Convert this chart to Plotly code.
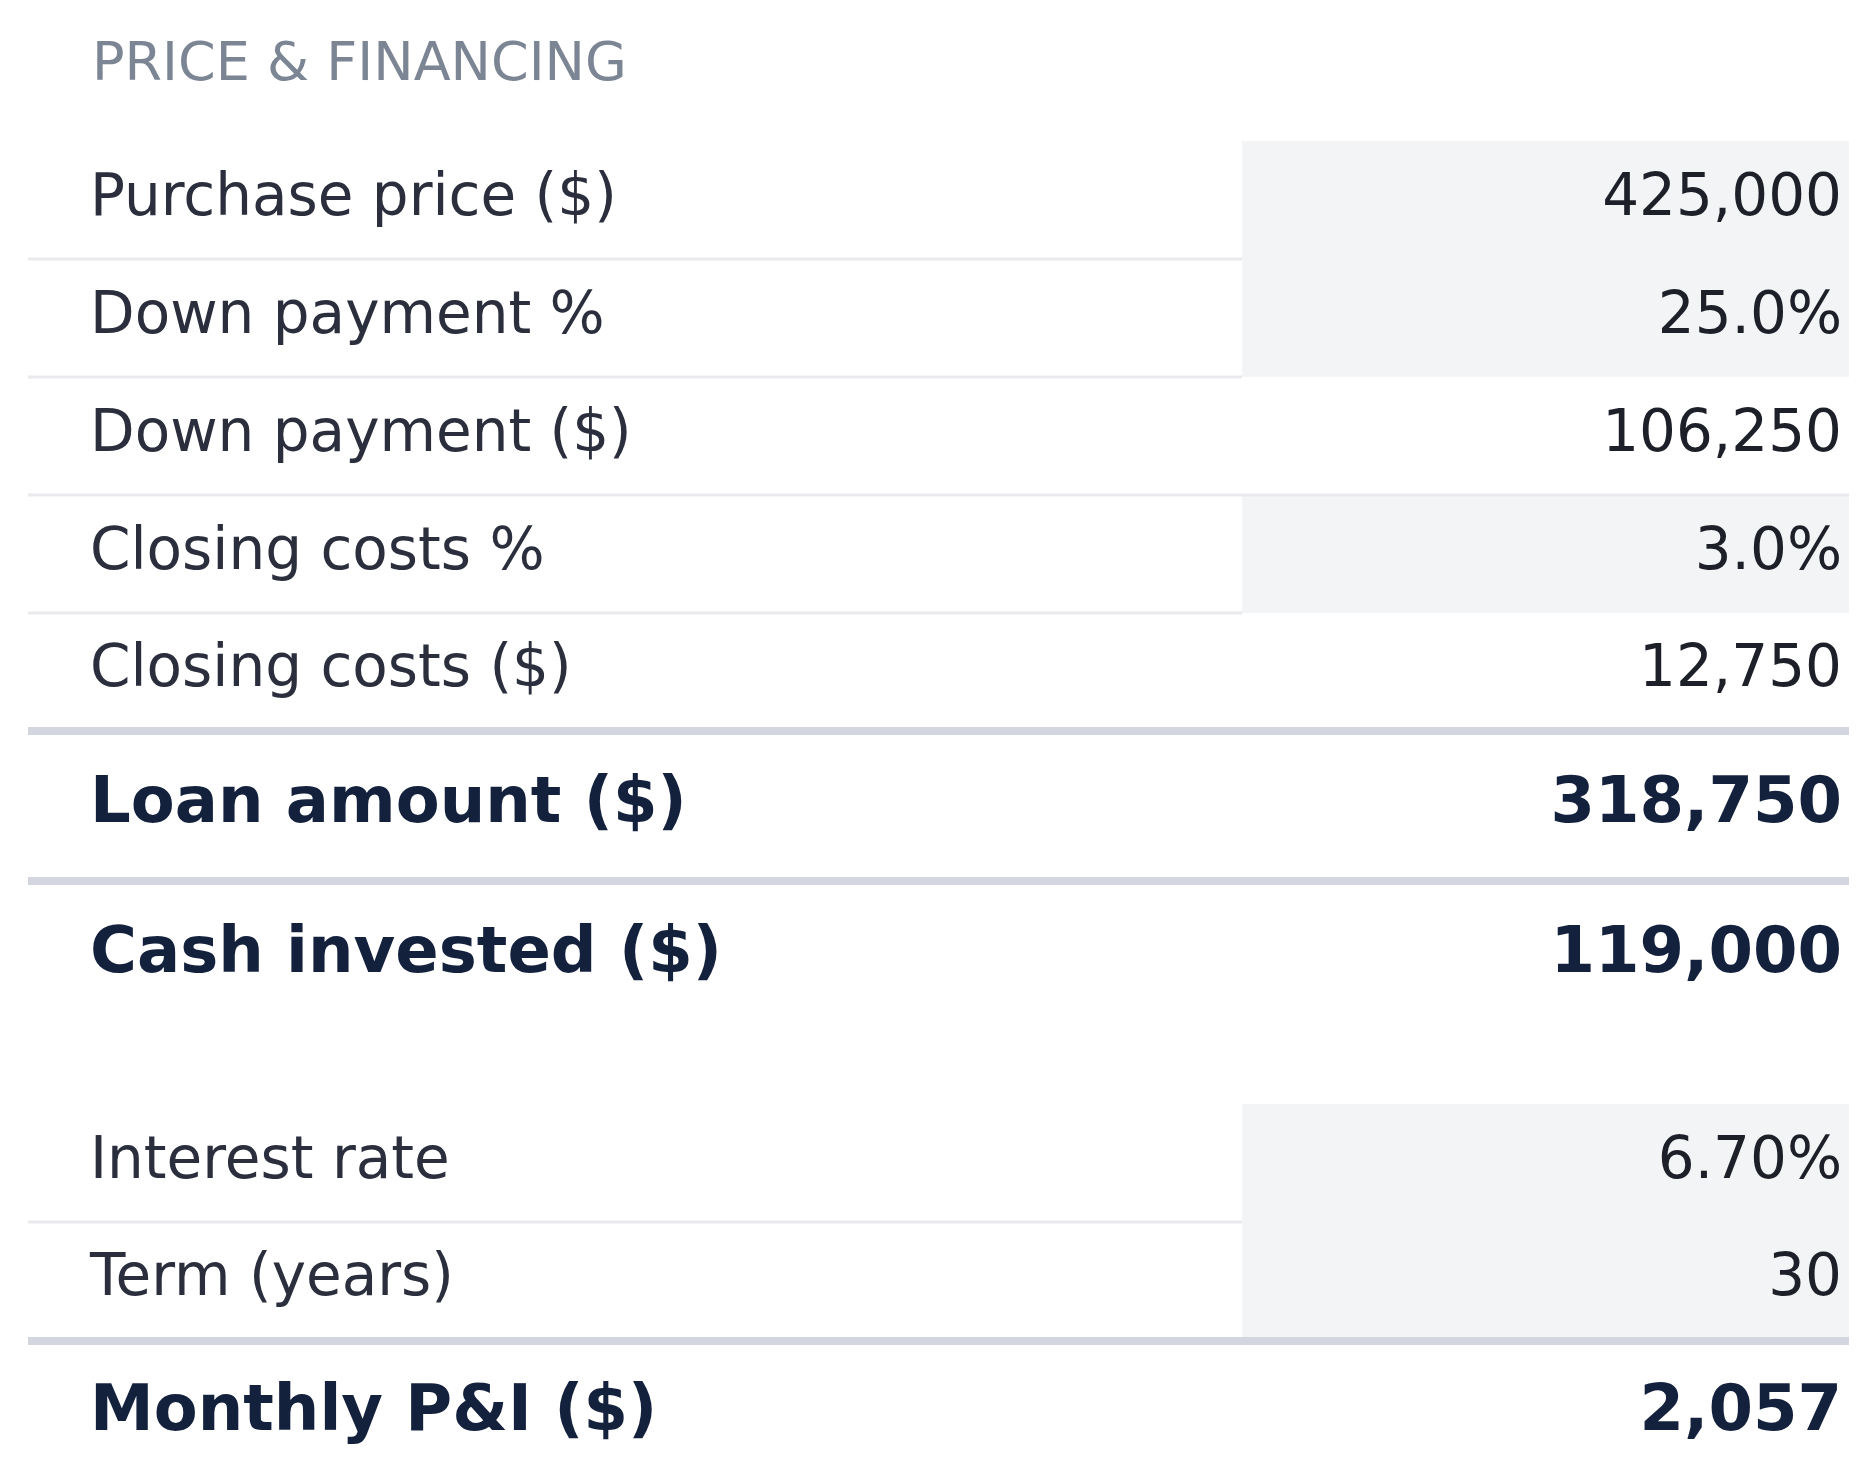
import plotly.graph_objects as go

# ── Data ──────────────────────────────────────────────────────────────────────
TITLE = "PRICE & FINANCING"
labels = ["Purchase price ($)", "Down payment %", "Down payment ($)", "Closing costs %",
          "Closing costs ($)", "Loan amount ($)", "Cash invested ($)",
          "Interest rate", "Term (years)", "Monthly P&I ($)"]
values = ["425,000", "25.0%", "106,250", "3.0%", "12,750", "318,750", "119,000",
          "6.70%", "30", "2,057"]
is_input = [True, True, False, True, False, False, False, True, True, False]
is_total = [False, False, False, False, False, True, True, False, False, True]

# ── Layout (pixel coords) ─────────────────────────────────────────────────────
W, H = 1872, 1464
row_top = [133, 251, 369, 487, 605, 726, 872, 1096, 1214, 1336]
row_bot = [251, 369, 487, 605, 722, 872, 1024, 1214, 1331, 1476]
X_LABEL, X_VALUE = 82, 1834
X_L, X_SPLIT, X_R = 20, 1234, 1841
THIN, THICK = "#e9eaee", "#d3d6de"

fig = go.Figure()
shapes = []
for i in range(len(labels)):
    if is_input[i]:
        shapes.append(dict(type="rect", x0=X_SPLIT, x1=X_R, y0=row_top[i], y1=row_bot[i],
                           fillcolor="#f3f4f6", line_width=0, layer="below"))
# separators
for i in [0, 1, 3, 7]:
    shapes.append(dict(type="line", x0=X_L, x1=X_SPLIT, y0=row_bot[i], y1=row_bot[i],
                       line=dict(color=THIN, width=3)))
shapes.append(dict(type="line", x0=X_L, x1=X_R, y0=row_bot[2], y1=row_bot[2],
                   line=dict(color=THIN, width=3)))
for y in [723, 873, 1333]:
    shapes.append(dict(type="line", x0=X_L, x1=X_R, y0=y, y1=y,
                       line=dict(color=THICK, width=8)))

ys = [(row_top[i] + min(row_bot[i], 1464)) / 2 if not is_total[i] else None for i in range(len(labels))]
ys[5], ys[6], ys[9] = 798, 948, 1406
ys = [y if i not in (7, 8) else y for i, y in enumerate(ys)]

for i, (lab, val) in enumerate(zip(labels, values)):
    bold = is_total[i]
    lf = dict(family="DejaVu Sans", size=64 if bold else 58,
              color="#14213d" if bold else "#2b2e3d",
              weight="bold" if bold else "normal")
    vf = dict(lf, color="#14213d" if bold else "#1e2029")
    fig.add_trace(go.Scatter(x=[X_LABEL], y=[ys[i]], mode="text", text=[lab],
                             textposition="middle right", textfont=lf, hoverinfo="skip"))
    fig.add_trace(go.Scatter(x=[X_VALUE], y=[ys[i]], mode="text", text=[val],
                             textposition="middle left", textfont=vf, hoverinfo="skip"))

fig.add_annotation(x=X_LABEL, y=53, text=TITLE, showarrow=False, xanchor="left",
                   yanchor="middle", font=dict(family="DejaVu Sans", size=54, color="#7c8594"))

fig.update_layout(
    width=W, height=H, margin=dict(l=0, r=0, t=0, b=0),
    paper_bgcolor="white", plot_bgcolor="white", showlegend=False, shapes=shapes,
    xaxis=dict(range=[0, W], visible=False, fixedrange=True),
    yaxis=dict(range=[H, 0], visible=False, fixedrange=True),
)
fig.write_html("out.html")
